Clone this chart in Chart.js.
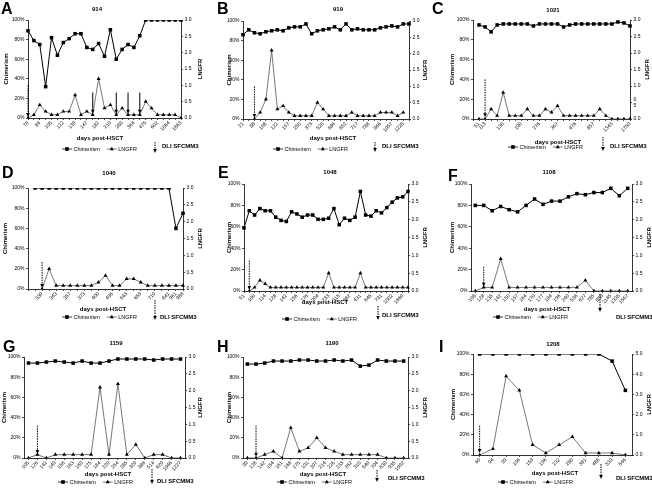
<!DOCTYPE html>
<html>
<head>
<meta charset="utf-8">
<script src="https://cdn.jsdelivr.net/npm/chart.js@4.4.1/dist/chart.umd.min.js"></script>
<style>
  html, body { margin: 0; padding: 0; background: #fff; }
  #wrap { position: relative; width: 652px; height: 492px; overflow: hidden; }
  #wrap canvas { position: absolute; }
</style>
</head>
<body>
<div id="wrap"></div>
<script>
// --- data: days post-HSCT, chimerism (%), LNGFR ---
const aDays = ['70','','84','','105','','122','','139','','147','','182','','210','','280','','364','','475','','602','','1064','','1863'];
const aChim = [89,79,75,32,82,64,77,81,86,86,72,70,76,63,90,60,70,75,72,84,100,100,100,100,100,100,100];
const aLngfr = [0,0.1,0.4,0.2,0.1,0.1,0.2,0.2,0.7,0.1,0.2,0.1,1.2,0.3,0.4,0.1,0.3,0.1,0.1,0.1,0.5,0.3,0.1,0.1,0.1,0.1,0];
const aDli = [0];
const aDliSolid = [11,15,17,19];

const bDays = ['21','','88','','108','','122','','157','','250','','373','','520','','586','','652','','717','','788','','866','','1057','','1228',''];
const bChim = [86,91,88,87,89,90,91,90,93,94,94,97,87,90,91,92,94,91,97,91,92,91,91,91,93,94,95,94,97,97];
const bLngfr = [null,null,0,0.2,0.6,2.1,0.3,0.4,0.2,0.1,0.1,0.1,0.1,0.5,0.3,0.1,0.1,0.1,0.1,0.2,0.1,0.1,0.1,0.1,0.2,0.2,0.2,0.1,0.2,null];
const bDli = [2];

const cDays = ['','51','113','','','130','','','190','','','276','','','367','','','476','','','857','','','1343','','','1750'];
const cChim = [null,95,93,88,95,96,96,96,96,96,94,96,96,96,96,93,95,96,96,96,96,96,96,96,98,97,94];
const cLngfr = [null,0,0,0.3,0.1,0.8,0.1,0.1,0.1,0.3,0.1,0.1,0.3,0.2,0.4,0.1,0.1,0.1,0.1,0.1,0.1,0.3,0.1,0,0,0,0];
const cDli = [2];

const dDays = ['','','330','','343','','357','','373','','400','','496','','543','','659','','710','','841','961','986'];
const dChim = [null,100,100,100,100,100,100,100,100,100,100,100,100,100,100,100,100,100,100,100,100,60,75];
const dLngfr = [null,null,0,0.6,0.1,0.1,0.1,0.1,0.1,0.1,0.2,0.4,0.1,0.1,0.3,0.3,0.2,0.1,0.1,0.1,0.1,0.1,0.1];
const dDli = [2];

const eDays = ['51','','100','','114','','128','','142','','156','','176','','204','','233','','315','','382','','431','','646','','791','','1002','','1660',''];
const eChim = [59,75,71,77,75,75,69,66,65,74,72,69,71,71,67,67,68,77,62,68,66,69,93,71,70,75,73,78,83,87,88,93];
const eLngfr = [null,0,0.1,0.3,0.2,0.1,0.1,0.1,0.1,0.1,0.1,0.1,0.1,0.1,0.1,0.1,0.5,0.1,0.1,0.1,0.1,0.1,0.5,0.1,0.1,0.1,0.1,0.1,0.1,0.1,0.1,0.1];
const eDli = [1];

const fDays = ['108','128','135','142','150','157','164','170','177','184','196','240','536','627','785','858','1145','1335','1557'];
const fChim = [80,80,75,79,76,74,80,86,81,84,84,88,91,90,92,92,96,89,96];
const fLngfr = [0,0.1,0.1,0.9,0.1,0.1,0.1,0.1,0.1,0.1,0.1,0.1,0.1,0.3,0,0,0,0,0];
const fDli = [1];

const gDays = ['105','126','142','149','156','163','169','175','184','220','254','285','320','386','514','620','1046','1227'];
const gChim = [94,94,95,96,95,94,96,94,94,96,98,98,98,98,97,98,98,98];
const gLngfr = [0,0.1,0,0.1,0.1,0.1,0.1,0.1,2.1,0.1,2.2,0.1,0.4,0,0.1,0.1,0,0];
const gDli = [1];

const hDays = ['99','128','142','154','161','168','175','191','207','214','226','233','262','310','540','704','830','935','1092'];
const hChim = [93,93,94,96,96,96,97,97,96,96,97,96,97,91,92,97,96,96,96];
const hLngfr = [0,0,0.1,0.2,0,0.9,0.2,0.3,0.6,0.3,0.2,0.1,0.1,0.1,0.1,0.1,0,0,0];
const hDli = [1];

const iDays = ['60','94','99','106','159','196','232','280','381','488','533','546'];
const iChim = [100,100,100,100,100,100,100,100,100,100,93,64];
const iLngfr = [0,0.3,3.9,3.2,0.5,0.1,0.5,0.9,0.1,0.1,0.1,0];
const iDli = [0];

const panels = [
  {letter:'A', title:'914',  days:aDays, chim:aChim, lngfr:aLngfr, dli:aDli, dliSolid:aDliSolid, y1max:3, y1step:0.5, offset:false},
  {letter:'B', title:'919',  days:bDays, chim:bChim, lngfr:bLngfr, dli:bDli, y1max:3, y1step:0.5, offset:false},
  {letter:'C', title:'1021', days:cDays, chim:cChim, lngfr:cLngfr, dli:cDli, y1max:3, y1step:0.5, offset:false, splitHalf:true},
  {letter:'D', title:'1040', days:dDays, chim:dChim, lngfr:dLngfr, dli:dDli, y1max:3, y1step:0.5, offset:false},
  {letter:'E', title:'1048', days:eDays, chim:eChim, lngfr:eLngfr, dli:eDli, y1max:3, y1step:0.5, offset:false},
  {letter:'F', title:'1108', days:fDays, chim:fChim, lngfr:fLngfr, dli:fDli, y1max:3, y1step:0.5, offset:true},
  {letter:'G', title:'1159', days:gDays, chim:gChim, lngfr:gLngfr, dli:gDli, y1max:3, y1step:0.5, offset:true},
  {letter:'H', title:'1190', days:hDays, chim:hChim, lngfr:hLngfr, dli:hDli, y1max:3, y1step:0.5, offset:true},
  {letter:'I', title:'1208', days:iDays, chim:iChim, lngfr:iLngfr, dli:iDli, y1max:5, y1step:1, offset:true}
];

// page layout (pixels) for each panel
const layout = [
  {cx:0,   cy:0,   cw:215, ch:163, L:28,  R:181, T:20,  B:118, letter:[1,14],    title:[97,9],    xt:[100,138], yl:6,   yr:200, leg:[62,149],  dliA:[155,142,153], dliT:[162,146], top:1.0,  tip:0.03, sTop:0.78, sTip:0.13},
  {cx:215, cy:0,   cw:215, ch:163, L:243, R:409, T:21,  B:119, letter:[217,14],  title:[338,9],   xt:[333,138], yl:229, yr:425, leg:[273,149], dliA:[375,142,152], dliT:[382,146], top:1.0,  tip:0.03},
  {cx:430, cy:0,   cw:222, ch:163, L:473, R:630, T:20,  B:119, letter:[432,14],  title:[553,10],  xt:[558,142], yl:452, yr:647, leg:[508,147], dliA:[603,137,151], dliT:[610,146], top:1.2,  tip:0.05},
  {cx:0,   cy:163, cw:215, ch:164, L:28,  R:183, T:188, B:289, letter:[2,178],   title:[109,173], xt:[103,309], yl:5,   yr:200, leg:[62,317],  dliA:[155,300,320], dliT:[160,317], top:0.8,  tip:0.03},
  {cx:215, cy:163, cw:215, ch:164, L:244, R:408, T:184, B:291, letter:[218,178], title:[330,172], xt:[325,302], yl:229, yr:425, leg:[282,319], dliA:[378,306,320], dliT:[382,315], top:0.85, tip:0.03},
  {cx:430, cy:163, cw:222, ch:164, L:471, R:632, T:184, B:291, letter:[448,181], title:[549,172], xt:[547,309], yl:452, yr:649, leg:[493,317], dliA:[600,294,312], dliT:[616,317], top:0.68, tip:0.12},
  {cx:0,   cy:327, cw:215, ch:165, L:24,  R:185, T:357, B:458, letter:[3,352],   title:[116,343], xt:[108,474], yl:4,   yr:200, leg:[58,482],  dliA:[152,469,484], dliT:[157,481], top:0.96, tip:0.12},
  {cx:215, cy:327, cw:215, ch:165, L:243, R:408, T:357, B:458, letter:[217,352], title:[332,343], xt:[323,474], yl:229, yr:425, leg:[277,482], dliA:[377,470,482], dliT:[388,478], top:0.96, tip:0.04},
  {cx:430, cy:327, cw:222, ch:165, L:473, R:632, T:354, B:455, letter:[439,352], title:[553,344], xt:[555,473], yl:453, yr:649, leg:[498,482], dliA:[601,464,479], dliT:[616,478], top:1.45, tip:0.1}
];

const FF = 'Arial, "Liberation Sans", Helvetica, sans-serif';
const YW = 22, Y1W = 16, XH = 20;

function arrow(ctx, x, y1, y2, dashed) {
  ctx.save();
  ctx.strokeStyle = '#000';
  ctx.fillStyle = '#000';
  ctx.lineWidth = 1;
  if (dashed) ctx.setLineDash([1.5, 1]);
  ctx.beginPath();
  ctx.moveTo(x, y1);
  ctx.lineTo(x, y2 - 3);
  ctx.stroke();
  ctx.setLineDash([]);
  ctx.beginPath();
  ctx.moveTo(x - 1.8, y2 - 4);
  ctx.lineTo(x + 1.8, y2 - 4);
  ctx.lineTo(x, y2);
  ctx.closePath();
  ctx.fill();
  ctx.restore();
}

function marker(ctx, shape, x, y) {
  ctx.beginPath();
  if (shape === 'rect') {
    ctx.rect(x - 1.8, y - 1.8, 3.6, 3.6);
  } else {
    ctx.moveTo(x, y - 2.3);
    ctx.lineTo(x + 2, y + 1.3);
    ctx.lineTo(x - 2, y + 1.3);
    ctx.closePath();
  }
  ctx.fill();
}

function deco(chart, P, G) {
  const ctx = chart.ctx, a = chart.chartArea;
  const X = v => v - G.cx, Y = v => v - G.cy;
  ctx.save();
  ctx.fillStyle = '#000';

  // panel letter
  ctx.font = 'bold 16px ' + FF;
  ctx.textAlign = 'left';
  ctx.textBaseline = 'alphabetic';
  ctx.fillText(P.letter, X(G.letter[0]), Y(G.letter[1]));

  // title and axis titles
  ctx.font = 'bold 6px ' + FF;
  ctx.textAlign = 'center';
  ctx.textBaseline = 'middle';
  ctx.fillText(P.title, X(G.title[0]), Y(G.title[1]));
  ctx.fillText('days post-HSCT', X(G.xt[0]), Y(G.xt[1]));
  const my = (a.top + a.bottom) / 2;
  [[G.yl, 'Chimerism'], [G.yr, 'LNGFR']].forEach(([x, t]) => {
    ctx.save();
    ctx.translate(X(x), my);
    ctx.rotate(-Math.PI / 2);
    ctx.fillText(t, 0, 0);
    ctx.restore();
  });

  // DLI arrows on the plot
  const xs = chart.scales.x, ys = chart.scales.y1;
  P.dli.forEach(i => arrow(ctx, xs.getPixelForValue(i), ys.getPixelForValue(G.top), ys.getPixelForValue(G.tip), true));
  (P.dliSolid || []).forEach(i => arrow(ctx, xs.getPixelForValue(i), ys.getPixelForValue(G.sTop), ys.getPixelForValue(G.sTip), false));

  // legend
  let lx = X(G.leg[0]);
  const ly = Y(G.leg[1]);
  ctx.font = '5.5px ' + FF;
  ctx.textAlign = 'left';
  [['Chimerism', 'rect', '#000'], ['LNGFR', 'triangle', '#555']].forEach(([t, shape, col]) => {
    ctx.strokeStyle = col;
    ctx.lineWidth = 0.8;
    ctx.beginPath();
    ctx.moveTo(lx, ly);
    ctx.lineTo(lx + 10, ly);
    ctx.stroke();
    marker(ctx, shape, lx + 5, ly);
    ctx.fillText(t, lx + 11.5, ly);
    lx += 11.5 + ctx.measureText(t).width + 7;
  });

  // DLI legend
  arrow(ctx, X(G.dliA[0]), Y(G.dliA[1]), Y(G.dliA[2]), true);
  ctx.font = 'bold 6px ' + FF;
  ctx.fillText('DLI SFCMM3', X(G.dliT[0]), Y(G.dliT[1]));
  ctx.restore();
}

const wrap = document.getElementById('wrap');

panels.forEach((P, k) => {
  const G = layout[k];
  const cv = document.createElement('canvas');
  cv.width = G.cw;
  cv.height = G.ch;
  cv.style.left = G.cx + 'px';
  cv.style.top = G.cy + 'px';
  cv.style.width = G.cw + 'px';
  cv.style.height = G.ch + 'px';
  wrap.appendChild(cv);

  const tickFont = {size: 5, family: FF};
  const axisGrid = {drawOnChartArea: false, drawTicks: true, tickLength: 2, color: '#000', lineWidth: 0.7};

  new Chart(cv, {
    type: 'line',
    data: {
      labels: P.days,
      datasets: [
        {
          label: 'Chimerism', data: P.chim, yAxisID: 'y',
          borderColor: '#000', borderWidth: 1, tension: 0,
          pointStyle: 'rect', pointRadius: 2.5, pointBackgroundColor: '#000', pointBorderWidth: 0
        },
        {
          label: 'LNGFR', data: P.lngfr, yAxisID: 'y1',
          borderColor: '#555', borderWidth: 0.8, tension: 0,
          pointStyle: 'triangle', pointRadius: 2.3, pointBackgroundColor: '#000', pointBorderWidth: 0
        }
      ]
    },
    options: {
      responsive: false,
      animation: false,
      events: [],
      layout: {
        padding: {
          left: G.L - G.cx - YW,
          right: G.cx + G.cw - G.R - Y1W,
          top: G.T - G.cy,
          bottom: G.cy + G.ch - G.B - XH
        }
      },
      plugins: {legend: {display: false}, tooltip: {enabled: false}},
      scales: {
        x: {
          type: 'category',
          offset: P.offset,
          grid: axisGrid,
          border: {color: '#000', width: 0.8},
          ticks: {autoSkip: false, minRotation: 45, maxRotation: 45, padding: 0, color: '#000', font: {size: 5, family: FF}},
          afterFit: s => { s.height = XH; }
        },
        y: {
          position: 'left',
          min: 0, max: 100,
          grid: axisGrid,
          border: {color: '#000', width: 0.8},
          ticks: {stepSize: 20, padding: 1.5, color: '#000', font: tickFont, callback: v => v + '%'},
          afterFit: s => { s.width = YW; }
        },
        y1: {
          position: 'right',
          min: 0, max: P.y1max,
          grid: axisGrid,
          border: {color: '#000', width: 0.8},
          ticks: {
            stepSize: P.y1step, padding: 1.5, color: '#000', font: tickFont,
            callback: v => (P.splitHalf && v === 0.5) ? ['0.', '5'] : v.toFixed(1)
          },
          afterFit: s => { s.width = Y1W; }
        }
      }
    },
    plugins: [{id: 'deco' + k, afterDraw: c => deco(c, P, G)}]
  });
});
</script>
</body>
</html>
